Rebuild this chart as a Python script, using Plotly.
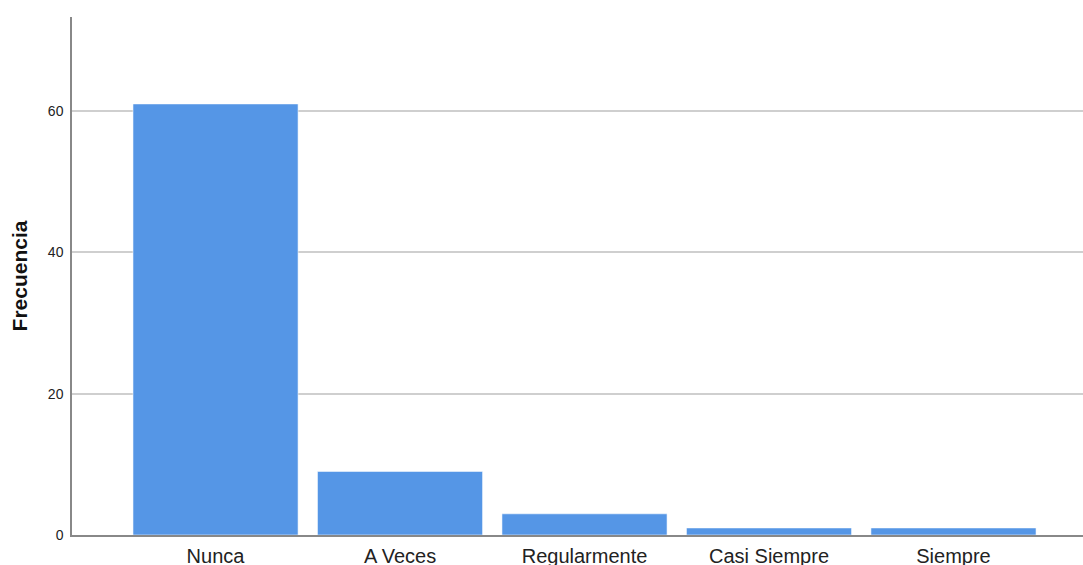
import plotly.graph_objects as go

categorias = ["Nunca", "A Veces", "Regularmente", "Casi Siempre", "Siempre"]
frecuencias = [61, 9, 3, 1, 1]
y_ticks = [0, 20, 40, 60]

fig = go.Figure(go.Bar(
    x=categorias,
    y=frecuencias,
    width=0.895,
    marker=dict(color="#5596E6", line=dict(color="rgba(255,255,255,0.55)", width=1)),
    showlegend=False,
))

fig.update_layout(
    width=1083,
    height=565,
    margin=dict(l=72, r=0, t=17, b=30),
    plot_bgcolor="white",
    paper_bgcolor="white",
    font=dict(family="Liberation Sans, Arial, sans-serif", color="#222"),
    xaxis=dict(
        range=[-0.778, 4.702],
        showline=True, linecolor="#888", linewidth=1.5,
        showgrid=False, ticks="",
        tickfont=dict(size=20, color="#222"),
        ticklabelstandoff=2,
        automargin=False,
    ),
    yaxis=dict(
        range=[0, 73.3],
        tickvals=y_ticks,
        showline=True, linecolor="#888", linewidth=1.5,
        showgrid=True, gridcolor="#cfcfcf", gridwidth=1.5,
        zeroline=False, ticks="",
        tickfont=dict(size=14, color="#222"),
        ticklabelstandoff=4,
        automargin=False,
        title=dict(text="<b>Frecuencia</b>", font=dict(size=21, color="#111"), standoff=15),
    ),
)

# remove the default body margin so the figure sits at the page corner
fig.write_html("out.html", config={"displayModeBar": False},
               post_script="document.body.style.margin='0px';")
